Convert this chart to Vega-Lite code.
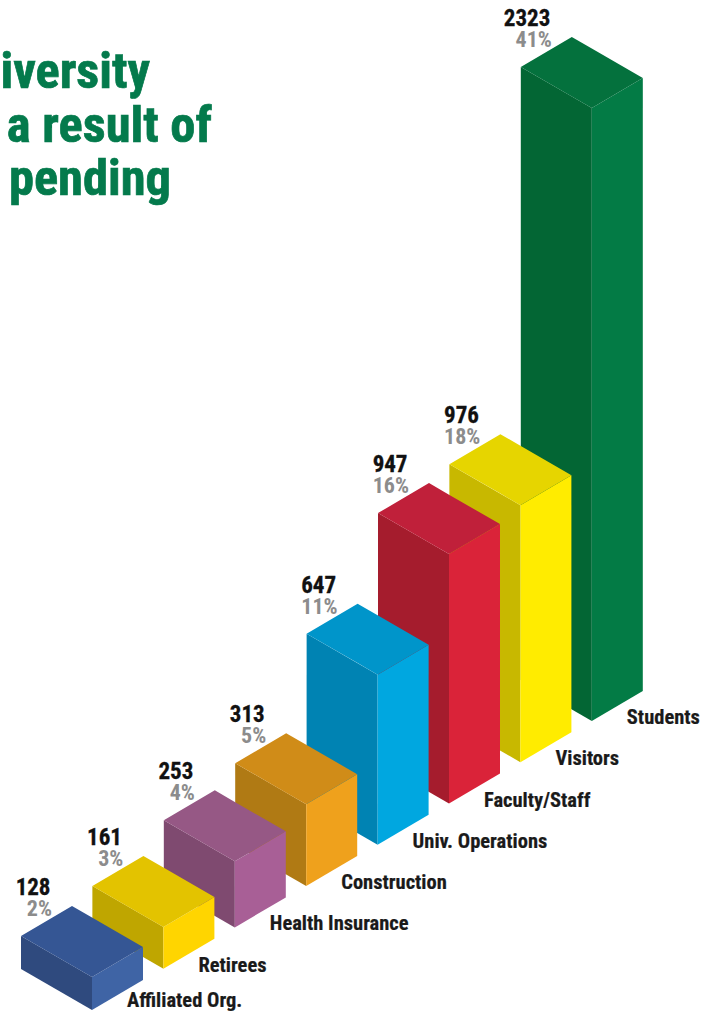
{
"$schema":"https://vega.github.io/schema/vega-lite/v6.json",
"width":704,"height":1014,
"autosize":"none",
"padding":0,
"background":"white",
"view":{"stroke":null},
"datasets":{"bars":[
{"category":"Students","value":2323,"share":"41%","rank":7},
{"category":"Visitors","value":976,"share":"18%","rank":6},
{"category":"Faculty/Staff","value":947,"share":"16%","rank":5},
{"category":"Univ. Operations","value":647,"share":"11%","rank":4},
{"category":"Construction","value":313,"share":"5%","rank":3},
{"category":"Health Insurance","value":253,"share":"4%","rank":2},
{"category":"Retirees","value":161,"share":"3%","rank":1},
{"category":"Affiliated Org.","value":128,"share":"2%","rank":0}
]},
"data":{"name":"bars"},
"transform":[
{"calculate":"92+71.4*datum.rank","as":"fx"},
{"calculate":"1010-41.3*datum.rank","as":"fy"},
{"calculate":"0.2642*datum.value-0.8","as":"h"}
],
"layer":[
{"transform":[
{"calculate":"['left','right','top']","as":"face"},
{"flatten":["face"]},
{"calculate":"datum.face==='left'?[-71,0]:datum.face==='right'?[0,51]:[-71,-20,0,51]","as":"dx"},
{"calculate":"datum.face==='left'?[-datum.h-41,-datum.h]:datum.face==='right'?[-datum.h,-datum.h-30]:[-datum.h-41,-datum.h-71,-datum.h-59.45,-datum.h-30]","as":"up"},
{"calculate":"datum.face==='left'?[-41,0]:datum.face==='right'?[0,-30]:[-datum.h-41,-datum.h-11.55,-datum.h,-datum.h-30]","as":"lo"},
{"flatten":["dx","up","lo"]},
{"calculate":"datum.fx+datum.dx","as":"px"},
{"calculate":"datum.fy+datum.up","as":"py"},
{"calculate":"datum.fy+datum.lo","as":"py2"},
{"calculate":"datum.category+' '+datum.face","as":"tone"}
],
"mark":{"type":"area","orient":"vertical","interpolate":"linear","line":false,"strokeWidth":0.4},
"encoding":{
"x":{"field":"px","type":"quantitative","axis":null,"scale":{"domain":[0,704],"nice":false,"zero":false}},
"y":{"field":"py","type":"quantitative","axis":null,"stack":null,"scale":{"domain":[1014,0],"nice":false,"zero":false}},
"y2":{"field":"py2"},
"color":{"field":"tone","type":"nominal","legend":null,"sort":null,"scale":{
"domain":["Students left","Students right","Students top","Visitors left","Visitors right","Visitors top","Faculty/Staff left","Faculty/Staff right","Faculty/Staff top","Univ. Operations left","Univ. Operations right","Univ. Operations top","Construction left","Construction right","Construction top","Health Insurance left","Health Insurance right","Health Insurance top","Retirees left","Retirees right","Retirees top","Affiliated Org. left","Affiliated Org. right","Affiliated Org. top"],
"range":["#036634","#037B45","#04713D","#C8B800","#FFEC00","#E6D500","#A51C2D","#DA2339","#C0203A","#0083B3","#00A7E0","#0095CA","#B07A14","#EFA11C","#D08C18","#7F4A70","#A85F96","#965885","#BFA600","#FFD500","#E3C300","#2F4A7E","#3F64A5","#355694"]}}
}},
{"transform":[{"calculate":"datum.fx-41.5","as":"lx"},{"calculate":"datum.fy-datum.h-82","as":"ly"}],
"mark":{"type":"text","align":"right","baseline":"alphabetic","font":"'Roboto Condensed','DejaVu Sans Condensed',Roboto","fontWeight":"bold","fontSize":23,"color":"#111111","stroke":"#111111","strokeWidth":0.3},
"encoding":{
"x":{"field":"lx","type":"quantitative","axis":null,"scale":{"domain":[0,704],"nice":false,"zero":false}},
"y":{"field":"ly","type":"quantitative","axis":null,"scale":{"domain":[1014,0],"nice":false,"zero":false}},
"text":{"field":"value","type":"quantitative"}}},
{"transform":[{"calculate":"datum.fx-40","as":"lx"},{"calculate":"datum.fy-datum.h-61","as":"ly"}],
"mark":{"type":"text","align":"right","baseline":"alphabetic","font":"'Roboto Condensed','DejaVu Sans Condensed',Roboto","fontWeight":"bold","fontSize":22,"color":"#8C8C8C"},
"encoding":{
"x":{"field":"lx","type":"quantitative","axis":null,"scale":{"domain":[0,704],"nice":false,"zero":false}},
"y":{"field":"ly","type":"quantitative","axis":null,"scale":{"domain":[1014,0],"nice":false,"zero":false}},
"text":{"field":"share","type":"nominal"}}},
{"transform":[{"calculate":"datum.fx+35","as":"lx"},{"calculate":"min(datum.fy+3,1007)","as":"ly"}],
"mark":{"type":"text","align":"left","baseline":"alphabetic","font":"'Roboto Condensed','DejaVu Sans Condensed',Roboto","fontWeight":"bold","fontSize":20.5,"color":"#1A1A1A","stroke":"#1A1A1A","strokeWidth":0.2},
"encoding":{
"x":{"field":"lx","type":"quantitative","axis":null,"scale":{"domain":[0,704],"nice":false,"zero":false}},
"y":{"field":"ly","type":"quantitative","axis":null,"scale":{"domain":[1014,0],"nice":false,"zero":false}},
"text":{"field":"category","type":"nominal"}}},
{"data":{"values":[{"line":"iversity"}]},"transform":[],
"mark":{"type":"text","align":"right","baseline":"alphabetic","font":"'Roboto Condensed','DejaVu Sans Condensed',Roboto","fontWeight":"bold","fontSize":50.5,"color":"#047A4C","stroke":"#047A4C","strokeWidth":0.7},
"encoding":{"x":{"datum":150,"type":"quantitative","axis":null,"scale":{"domain":[0,704],"nice":false,"zero":false}},"y":{"datum":88,"type":"quantitative","axis":null,"scale":{"domain":[1014,0],"nice":false,"zero":false}},"text":{"field":"line"}}},
{"data":{"values":[{"line":"a result of"}]},
"mark":{"type":"text","align":"right","baseline":"alphabetic","font":"'Roboto Condensed','DejaVu Sans Condensed',Roboto","fontWeight":"bold","fontSize":50.5,"color":"#047A4C","stroke":"#047A4C","strokeWidth":0.7},
"encoding":{"x":{"datum":212,"type":"quantitative","axis":null,"scale":{"domain":[0,704],"nice":false,"zero":false}},"y":{"datum":142,"type":"quantitative","axis":null,"scale":{"domain":[1014,0],"nice":false,"zero":false}},"text":{"field":"line"}}},
{"data":{"values":[{"line":"pending"}]},
"mark":{"type":"text","align":"right","baseline":"alphabetic","font":"'Roboto Condensed','DejaVu Sans Condensed',Roboto","fontWeight":"bold","fontSize":50.5,"color":"#047A4C","stroke":"#047A4C","strokeWidth":0.7},
"encoding":{"x":{"datum":171,"type":"quantitative","axis":null,"scale":{"domain":[0,704],"nice":false,"zero":false}},"y":{"datum":195,"type":"quantitative","axis":null,"scale":{"domain":[1014,0],"nice":false,"zero":false}},"text":{"field":"line"}}}
]
}
